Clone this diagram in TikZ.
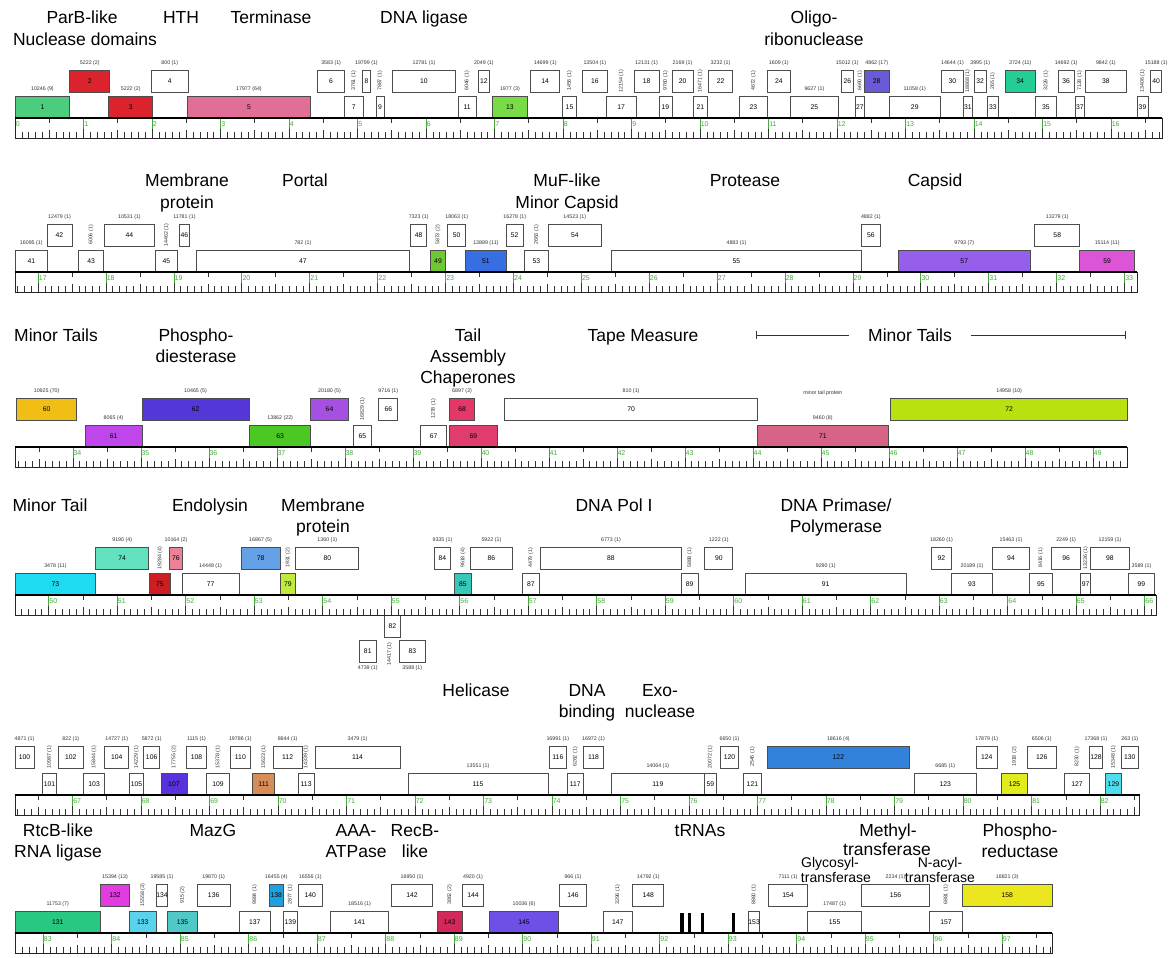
\documentclass[tikz,border=0pt]{standalone}
\usepackage{fontspec}
\setmainfont{Liberation Sans}
\usetikzlibrary{calc}

% gene colours
\definecolor{cgreen}{RGB}{75,205,125}
\definecolor{cred}{RGB}{220,35,45}
\definecolor{cpink}{RGB}{225,110,150}
\definecolor{clgreen}{RGB}{120,220,70}
\definecolor{cviolet}{RGB}{105,90,215}
\definecolor{cteal}{RGB}{35,205,150}
\definecolor{cgreenb}{RGB}{110,200,50}
\definecolor{cblue}{RGB}{55,110,225}
\definecolor{cpurple}{RGB}{150,95,235}
\definecolor{cmagenta}{RGB}{220,85,215}
\definecolor{cgold}{RGB}{240,190,20}
\definecolor{corchid}{RGB}{190,70,235}
\definecolor{cindigo}{RGB}{85,55,215}
\definecolor{cgreenc}{RGB}{75,200,35}
\definecolor{cpurpleb}{RGB}{165,80,225}
\definecolor{crose}{RGB}{230,55,105}
\definecolor{croseb}{RGB}{225,60,110}
\definecolor{crosec}{RGB}{215,100,135}
\definecolor{cchart}{RGB}{185,225,15}
\definecolor{ccyan}{RGB}{30,220,240}
\definecolor{caqua}{RGB}{100,225,190}
\definecolor{credb}{RGB}{205,30,35}
\definecolor{cpinkb}{RGB}{235,130,150}
\definecolor{clblue}{RGB}{100,160,230}
\definecolor{clime}{RGB}{190,235,60}
\definecolor{ctealb}{RGB}{55,200,185}
\definecolor{cindigob}{RGB}{90,50,220}
\definecolor{corange}{RGB}{215,140,90}
\definecolor{cblueb}{RGB}{50,130,220}
\definecolor{cyellow}{RGB}{225,235,30}
\definecolor{ccyanb}{RGB}{80,220,235}
\definecolor{cgreend}{RGB}{40,200,130}
\definecolor{cmagentab}{RGB}{225,60,225}
\definecolor{ccyanc}{RGB}{90,210,235}
\definecolor{ctealc}{RGB}{80,200,200}
\definecolor{cbluec}{RGB}{30,160,225}
\definecolor{ccrimson}{RGB}{210,40,90}
\definecolor{cindigoc}{RGB}{110,80,230}
\definecolor{cyellowb}{RGB}{235,230,30}
\definecolor{kbgreen}{RGB}{70,170,60}

\tikzset{
  gene/.style={draw=black!70, line width=0.8pt, inner sep=0pt, minimum height=22pt,
    font=\fontsize{6.8}{7}\selectfont},
  cnt/.style={inner sep=0pt, font=\fontsize{5.3}{6}\selectfont, text=black!80},
  ttl/.style={anchor=base, inner sep=0pt, font=\fontsize{17.5}{21}\selectfont},
  ttlsmall/.style={anchor=base, inner sep=0pt, font=\fontsize{14}{16}\selectfont},
  tick/.style={line width=0.6pt, black!80},
  kbtick/.style={line width=0.6pt, kbgreen},
  kblab/.style={anchor=west, inner sep=0.6pt, text=kbgreen, font=\fontsize{7}{8}\selectfont},
  rulerframe/.style={line width=1pt, black!85},
  rulertop/.style={line width=1.8pt, black},
  trna/.style={fill=black, draw=none},
  bracket/.style={line width=0.6pt, black!80},
}

% kb -> x within the current row: x = 15 + (kb - \ks) * \ksc
\newcommand\setgene[2]{%
  \pgfmathsetmacro\xa{15+(#1-\ks)*\ksc}%
  \pgfmathsetmacro\xb{15+(#2-\ks)*\ksc}%
  \pgfmathsetmacro\xm{(\xa+\xb)/2}%
  \pgfmathsetmacro\xw{\xb-\xa}}

% upper-lane gene with its count label above
\newcommand\gU[5]{\setgene{#2}{#3}%
  \node[gene,fill=#4,minimum width=\xw pt] (g#1) at (\xm,\yU) {#1};
  \node[cnt] (c#1) at (\xm,\yU-18) {#5};}
% lower-lane gene with its count label above
\newcommand\gL[5]{\setgene{#2}{#3}%
  \node[gene,fill=#4,minimum width=\xw pt] (g#1) at (\xm,\yL) {#1};
  \node[cnt] (c#1) at (\xm,\yL-18) {#5};}
% lower-lane gene with a vertical count label in the upper lane
\newcommand\gV[5]{\setgene{#2}{#3}%
  \node[gene,fill=#4,minimum width=\xw pt] (g#1) at (\xm,\yL) {#1};
  \node[cnt,rotate=90] (c#1) at (\xm,\yU) {#5};}

% kilobase ruler: #1 start kb, #2 end kb, #3 top y
\newcommand\kbruler[3]{%
  \pgfmathsetmacro\ra{15+(#1-\ks)*\ksc}%
  \pgfmathsetmacro\rb{15+(#2-\ks)*\ksc}%
  \pgfmathtruncatemacro\ta{ceil(#1*10-0.01)}%
  \pgfmathtruncatemacro\tb{floor(#2*10+0.01)}%
  \foreach \tk in {\ta,...,\tb}{%
    \pgfmathsetmacro\tx{15+(\tk/10-\ks)*\ksc}%
    \pgfmathtruncatemacro\tm{mod(\tk,10)}%
    \pgfmathtruncatemacro\tkb{\tk/10}%
    \ifnum\tm=0
      \draw[kbtick] (\tx,#3) -- (\tx,#3+12);
      \draw[tick] (\tx,#3+20) -- (\tx,#3+11);
      \node[kblab] (kb\tkb) at (\tx,#3+6) {\tkb};
    \else\ifnum\tm=5
      \draw[tick] (\tx,#3) -- (\tx,#3+5);
      \draw[tick] (\tx,#3+20) -- (\tx,#3+12);
    \else
      \draw[tick] (\tx,#3+20) -- (\tx,#3+14);
    \fi\fi
  }%
  \draw[rulerframe] (\ra,#3) rectangle (\rb,#3+20);
  \draw[rulertop] (\ra,#3) -- (\rb,#3);}

\begin{document}
\begin{tikzpicture}[x=1pt,y=-1pt]
\useasboundingbox (0,0) rectangle (1173,958);
\fill[white] (0,0) rectangle (1173,958);

%%%%%%%%%%%%%%%% 0 - 16.7 kb
\def\ks{0}\def\ksc{68.5}\def\yU{81}\def\yL{107}
\node[ttl] (t1a) at (82,24) {ParB-like};
\node[ttl] (t1b) at (85,46) {Nuclease domains};
\node[ttl] (t2) at (181,24) {HTH};
\node[ttl] (t3) at (271,24) {Terminase};
\node[ttl] (t4) at (424,24) {DNA ligase};
\node[ttl] (t5a) at (814,24) {Oligo-};
\node[ttl] (t5b) at (814,46) {ribonuclease};
\gL{1}{0}{0.80}{cgreen}{10246 (9)}
\gU{2}{0.80}{1.385}{cred}{5222 (2)}
\gL{3}{1.37}{2.01}{cred}{5222 (2)}
\gU{4}{1.99}{2.53}{white}{800 (1)}
\gL{5}{2.52}{4.31}{cpink}{17977 (64)}
\gU{6}{4.42}{4.81}{white}{3583 (1)}
\gV{7}{4.81}{5.08}{white}{3761 (1)}
\gU{8}{5.07}{5.19}{white}{19799 (1)}
\gV{9}{5.27}{5.39}{white}{7887 (1)}
\gU{10}{5.51}{6.43}{white}{12781 (1)}
\gV{11}{6.47}{6.73}{white}{6046 (1)}
\gU{12}{6.76}{6.93}{white}{2049 (1)}
\gL{13}{6.97}{7.48}{clgreen}{1977 (3)}
\gU{14}{7.53}{7.95}{white}{14699 (1)}
\gV{15}{7.99}{8.20}{white}{1456 (1)}
\gU{16}{8.28}{8.65}{white}{13504 (1)}
\gV{17}{8.63}{9.07}{white}{12154 (1)}
\gU{18}{9.04}{9.40}{white}{12131 (1)}
\gV{19}{9.40}{9.59}{white}{9760 (1)}
\gU{20}{9.59}{9.90}{white}{2169 (1)}
\gV{21}{9.90}{10.11}{white}{16471 (1)}
\gU{22}{10.12}{10.48}{white}{3232 (1)}
\gV{23}{10.57}{10.99}{white}{4672 (1)}
\gU{24}{10.98}{11.32}{white}{1609 (1)}
\gL{25}{11.32}{12.02}{white}{9627 (1)}
\gU{26}{12.06}{12.24}{white}{15012 (1)}
\gV{27}{12.27}{12.40}{white}{6690 (1)}
\gU{28}{12.40}{12.76}{cviolet}{4862 (17)}
\gL{29}{12.76}{13.51}{white}{11058 (1)}
\gU{30}{13.53}{13.84}{white}{14644 (1)}
\gV{31}{13.84}{13.98}{white}{18868 (1)}
\gU{32}{14.0}{14.18}{white}{3995 (1)}
\gV{33}{14.19}{14.36}{white}{265 (1)}
\gU{34}{14.46}{14.89}{cteal}{3724 (11)}
\gV{35}{14.89}{15.21}{white}{3226 (1)}
\gU{36}{15.23}{15.46}{white}{14692 (1)}
\gV{37}{15.48}{15.61}{white}{7128 (1)}
\gU{38}{15.62}{16.23}{white}{9842 (1)}
\gV{39}{16.38}{16.54}{white}{13406 (1)}
\gU{40}{16.58}{16.74}{white}{15188 (1)}
\kbruler{0}{16.75}{118}

%%%%%%%%%%%%%%%% 16.7 - 33.2 kb
\def\ks{16.66}\def\ksc{67.9}\def\yU{235}\def\yL{261}
\node[ttl] (t6a) at (187,186) {Membrane};
\node[ttl] (t6b) at (187,208) {protein};
\node[ttl] (t7) at (305,186) {Portal};
\node[ttl] (t8a) at (567,186) {MuF-like};
\node[ttl] (t8b) at (567,208) {Minor Capsid};
\node[ttl] (t9) at (745,186) {Protease};
\node[ttl] (t10) at (935,186) {Capsid};
\gL{41}{16.66}{17.14}{white}{16095 (1)}
\gU{42}{17.13}{17.50}{white}{12479 (1)}
\gV{43}{17.6}{17.96}{white}{6006 (1)}
\gU{44}{17.97}{18.72}{white}{10531 (1)}
\gV{45}{18.73}{19.05}{white}{14462 (1)}
\gU{46}{19.08}{19.23}{white}{11781 (1)}
\gL{47}{19.33}{22.47}{white}{782 (1)}
\gU{48}{22.49}{22.72}{white}{7323 (1)}
\gV{49}{22.78}{23.0}{cgreenb}{5873 (2)}
\gU{50}{23.03}{23.30}{white}{18063 (1)}
\gL{51}{23.30}{23.89}{cblue}{13889 (11)}
\gU{52}{23.89}{24.15}{white}{16278 (1)}
\gV{53}{24.16}{24.52}{white}{2663 (1)}
\gU{54}{24.52}{25.29}{white}{14523 (1)}
\gL{55}{25.44}{29.13}{white}{4883 (1)}
\gU{56}{29.13}{29.4}{white}{4882 (1)}
\gL{57}{29.67}{31.61}{cpurple}{9793 (7)}
\gU{58}{31.68}{32.34}{white}{13279 (1)}
\gL{59}{32.34}{33.15}{cmagenta}{15114 (11)}
\kbruler{16.66}{33.19}{272}

%%%%%%%%%%%%%%%% 33.2 - 49.5 kb
\def\ks{33.15}\def\ksc{68.0}\def\yU{409}\def\yL{436}
\node[ttl] (t11) at (56,341) {Minor Tails};
\node[ttl] (t12a) at (196,341) {Phospho-};
\node[ttl] (t12b) at (196,362) {diesterase};
\node[ttl] (t13a) at (468,341) {Tail};
\node[ttl] (t13b) at (468,362) {Assembly};
\node[ttl] (t13c) at (468,383) {Chaperones};
\node[ttl] (t14) at (643,341) {Tape Measure};
\node[ttl] (t15) at (910,341) {Minor Tails};
\coordinate (mtL) at (756,335);
\coordinate (mtR) at (1125,335);
\draw[bracket,shorten >=19pt] (mtL) -- (mtL -| t15.west);
\draw[bracket,shorten <=19pt] (mtR -| t15.east) -- (mtR);
\draw[bracket] ([yshift=-4pt]mtL) -- ([yshift=4pt]mtL);
\draw[bracket] ([yshift=-4pt]mtR) -- ([yshift=4pt]mtR);
\gU{60}{33.17}{34.06}{cgold}{10925 (70)}
\gL{61}{34.18}{35.02}{corchid}{8065 (4)}
\gU{62}{35.02}{36.59}{cindigo}{10465 (5)}
\gL{63}{36.6}{37.5}{cgreenc}{13862 (22)}
\gU{64}{37.49}{38.06}{cpurpleb}{20180 (5)}
\gV{65}{38.13}{38.39}{white}{16829 (1)}
\gU{66}{38.5}{38.78}{white}{9716 (1)}
\gV{67}{39.11}{39.5}{white}{1278 (1)}
\gL{69}{39.54}{40.24}{croseb}{}
\gU{68}{39.54}{39.91}{crose}{6897 (2)}
\gU{70}{40.35}{44.07}{white}{810 (1)}
\gL{71}{44.07}{45.99}{crosec}{9460 (8)}
\node[cnt] (mtp) at (\xm,\yU-16) {minor tail protein};
\gU{72}{46.03}{49.51}{cchart}{14958 (10)}
\kbruler{33.15}{49.51}{447}

%%%%%%%%%%%%%%%% 49.5 - 66.2 kb
\def\ks{49.51}\def\ksc{68.5}\def\yU{558}\def\yL{584}
\node[ttl] (t16) at (50,511) {Minor Tail};
\node[ttl] (t17) at (210,511) {Endolysin};
\node[ttl] (t18a) at (323,511) {Membrane};
\node[ttl] (t18b) at (323,532) {protein};
\node[ttl] (t19) at (614,511) {DNA Pol I};
\node[ttl] (t20a) at (836,511) {DNA Primase/};
\node[ttl] (t20b) at (836,532) {Polymerase};
\gL{73}{49.51}{50.69}{ccyan}{3478 (11)}
\gU{74}{50.69}{51.46}{caqua}{9190 (4)}
\gV{75}{51.47}{51.78}{credb}{19284 (4)}
\gU{76}{51.77}{51.95}{cpinkb}{10164 (2)}
\gL{77}{51.95}{52.78}{white}{14448 (1)}
\gU{78}{52.81}{53.38}{clblue}{16867 (5)}
\gV{79}{53.38}{53.61}{clime}{1931 (2)}
\gU{80}{53.61}{54.53}{white}{1360 (1)}
\gU{84}{55.63}{55.87}{white}{9335 (1)}
\gV{85}{55.93}{56.17}{ctealb}{9618 (4)}
\gU{86}{56.16}{56.77}{white}{5922 (1)}
\gV{87}{56.92}{57.16}{white}{4479 (1)}
\gU{88}{57.18}{59.24}{white}{6773 (1)}
\gV{89}{59.24}{59.48}{white}{5888 (1)}
\gU{90}{59.58}{59.99}{white}{1222 (1)}
\gL{91}{60.17}{62.52}{white}{9290 (1)}
\gU{92}{62.89}{63.18}{white}{18260 (1)}
\gL{93}{63.18}{63.78}{white}{20189 (1)}
\gU{94}{63.78}{64.32}{white}{15463 (1)}
\gV{95}{64.32}{64.65}{white}{8416 (1)}
\gU{96}{64.64}{65.07}{white}{2249 (1)}
\gV{97}{65.07}{65.21}{white}{13236 (1)}
\gU{98}{65.21}{65.78}{white}{12159 (1)}
\gL{99}{65.76}{66.15}{white}{3589 (1)}
% reverse-strand genes below the ruler
\setgene{54.9}{55.14}
\node[gene,fill=white,minimum width=\xw pt] (g82) at (\xm,626) {82};
\node[cnt,rotate=90] (c82) at (\xm-3,654) {14417 (1)};
\setgene{54.54}{54.78}
\node[gene,fill=white,minimum width=\xw pt] (g81) at (\xm,651) {81};
\node[cnt] (c81) at (\xm,668) {4739 (1)};
\setgene{55.12}{55.5}
\node[gene,fill=white,minimum width=\xw pt] (g83) at (\xm,651) {83};
\node[cnt] (c83) at (\xm,668) {3588 (1)};
\kbruler{49.51}{66.17}{595}

%%%%%%%%%%%%%%%% 66.2 - 82.6 kb
\def\ks{66.16}\def\ksc{68.5}\def\yU{757}\def\yL{784}
\node[ttl] (t21) at (476,696) {Helicase};
\node[ttl] (t22a) at (587,696) {DNA};
\node[ttl] (t22b) at (587,717) {binding};
\node[ttl] (t23a) at (660,696) {Exo-};
\node[ttl] (t23b) at (660,717) {nuclease};
\gU{100}{66.16}{66.44}{white}{4871 (1)}
\gV{101}{66.56}{66.77}{white}{10987 (1)}
\gU{102}{66.79}{67.16}{white}{822 (1)}
\gV{103}{67.16}{67.47}{white}{15844 (1)}
\gU{104}{67.47}{67.82}{white}{14727 (1)}
\gV{105}{67.83}{68.04}{white}{14229 (1)}
\gU{106}{68.04}{68.27}{white}{5872 (1)}
\gV{107}{68.29}{68.67}{cindigob}{17755 (2)}
\gU{108}{68.66}{68.96}{white}{1115 (1)}
\gV{109}{68.96}{69.29}{white}{15378 (1)}
\gU{110}{69.31}{69.59}{white}{19786 (1)}
\gV{111}{69.63}{69.95}{corange}{15623 (1)}
\gU{112}{69.93}{70.35}{white}{8644 (1)}
\gV{113}{70.29}{70.53}{white}{14339 (1)}
\gU{114}{70.54}{71.78}{white}{3479 (1)}
\gL{115}{71.9}{73.94}{white}{13551 (1)}
\gU{116}{73.96}{74.21}{white}{16991 (1)}
\gV{117}{74.22}{74.46}{white}{6262 (1)}
\gU{118}{74.46}{74.75}{white}{16972 (1)}
\gL{119}{74.87}{76.22}{white}{14064 (1)}
\setgene{76.22}{76.40}
\node[gene,fill=white,minimum width=\xw pt] (g59b) at (\xm,\yL) {59};
\node[cnt,rotate=90] (c59b) at (\xm,\yU) {20072 (1)};
\gU{120}{76.46}{76.72}{white}{6650 (1)}
\gV{121}{76.79}{77.06}{white}{2546 (1)}
\gU{122}{77.14}{79.22}{cblueb}{18616 (4)}
\gL{123}{79.29}{80.19}{white}{6685 (1)}
\gU{124}{80.19}{80.5}{white}{17879 (1)}
\gV{125}{80.56}{80.94}{cyellow}{1918 (2)}
\gU{126}{80.94}{81.36}{white}{6506 (1)}
\gV{127}{81.48}{81.85}{white}{8230 (1)}
\gU{128}{81.85}{82.03}{white}{17368 (1)}
\gV{129}{82.08}{82.31}{ccyanb}{15348 (1)}
\gU{130}{82.31}{82.56}{white}{263 (1)}
\kbruler{66.16}{82.58}{795}

%%%%%%%%%%%%%%%% 82.6 - 97.7 kb
\def\ks{82.59}\def\ksc{68.5}\def\yU{895}\def\yL{922}
\node[ttl] (t24a) at (58,836) {RtcB-like};
\node[ttl] (t24b) at (58,857) {RNA ligase};
\node[ttl] (t25) at (213,836) {MazG};
\node[ttl] (t26a) at (356,836) {AAA-};
\node[ttl] (t26b) at (356,857) {ATPase};
\node[ttl] (t27a) at (415,836) {RecB-};
\node[ttl] (t27b) at (415,857) {like};
\node[ttl] (t28) at (700,836) {tRNAs};
\node[ttl] (t29a) at (888,836) {Methyl-};
\node[ttl] (t29b) at (887,855) {transferase};
\node[ttl] (t30a) at (1020,836) {Phospho-};
\node[ttl] (t30b) at (1020,857) {reductase};
\node[ttlsmall] (t31a) at (830,867) {Glycosyl-};
\node[ttlsmall] (t31b) at (836,882) {transferase};
\node[ttlsmall] (t32a) at (940,867) {N-acyl-};
\node[ttlsmall] (t32b) at (940,882) {transferase};
\gL{131}{82.59}{83.84}{cgreend}{11753 (7)}
\gU{132}{83.84}{84.26}{cmagentab}{15394 (13)}
\gV{133}{84.26}{84.65}{ccyanc}{15558 (3)}
\gU{134}{84.65}{84.82}{white}{19585 (1)}
\gV{135}{84.82}{85.25}{ctealc}{915 (2)}
\gU{136}{85.25}{85.73}{white}{19870 (1)}
\gV{137}{85.86}{86.32}{white}{9884 (1)}
\gU{138}{86.30}{86.51}{cbluec}{16455 (4)}
\gV{139}{86.51}{86.71}{white}{2877 (1)}
\gU{140}{86.72}{87.08}{white}{16556 (1)}
\gL{141}{87.2}{88.04}{white}{18516 (1)}
\gU{142}{88.09}{88.68}{white}{16950 (1)}
\gV{143}{88.75}{89.12}{ccrimson}{3862 (2)}
\gU{144}{89.12}{89.43}{white}{4920 (1)}
\gL{145}{89.51}{90.53}{cindigoc}{10036 (6)}
\gU{146}{90.54}{90.93}{white}{966 (1)}
\gV{147}{91.18}{91.6}{white}{3296 (1)}
\gU{148}{91.61}{92.06}{white}{14792 (1)}
% tRNA genes
\foreach \tp [count=\ti] in {92.3,92.41,92.6,93.05}{
  \setgene{\tp}{\tp+0.055}
  \node[trna,minimum width=\xw pt,minimum height=20pt,inner sep=0pt] (trna\ti) at (\xm,\yL+1) {};
}
\gV{153}{93.31}{93.45}{white}{8880 (1)}
\gU{154}{93.59}{94.16}{white}{7111 (1)}
\gL{155}{94.16}{94.95}{white}{17487 (1)}
\gU{156}{94.95}{95.94}{white}{2234 (1)}
\gV{157}{95.94}{96.42}{white}{6881 (1)}
\gU{158}{96.42}{97.73}{cyellowb}{18821 (3)}
\kbruler{82.59}{97.73}{933}

\end{tikzpicture}
\end{document}
